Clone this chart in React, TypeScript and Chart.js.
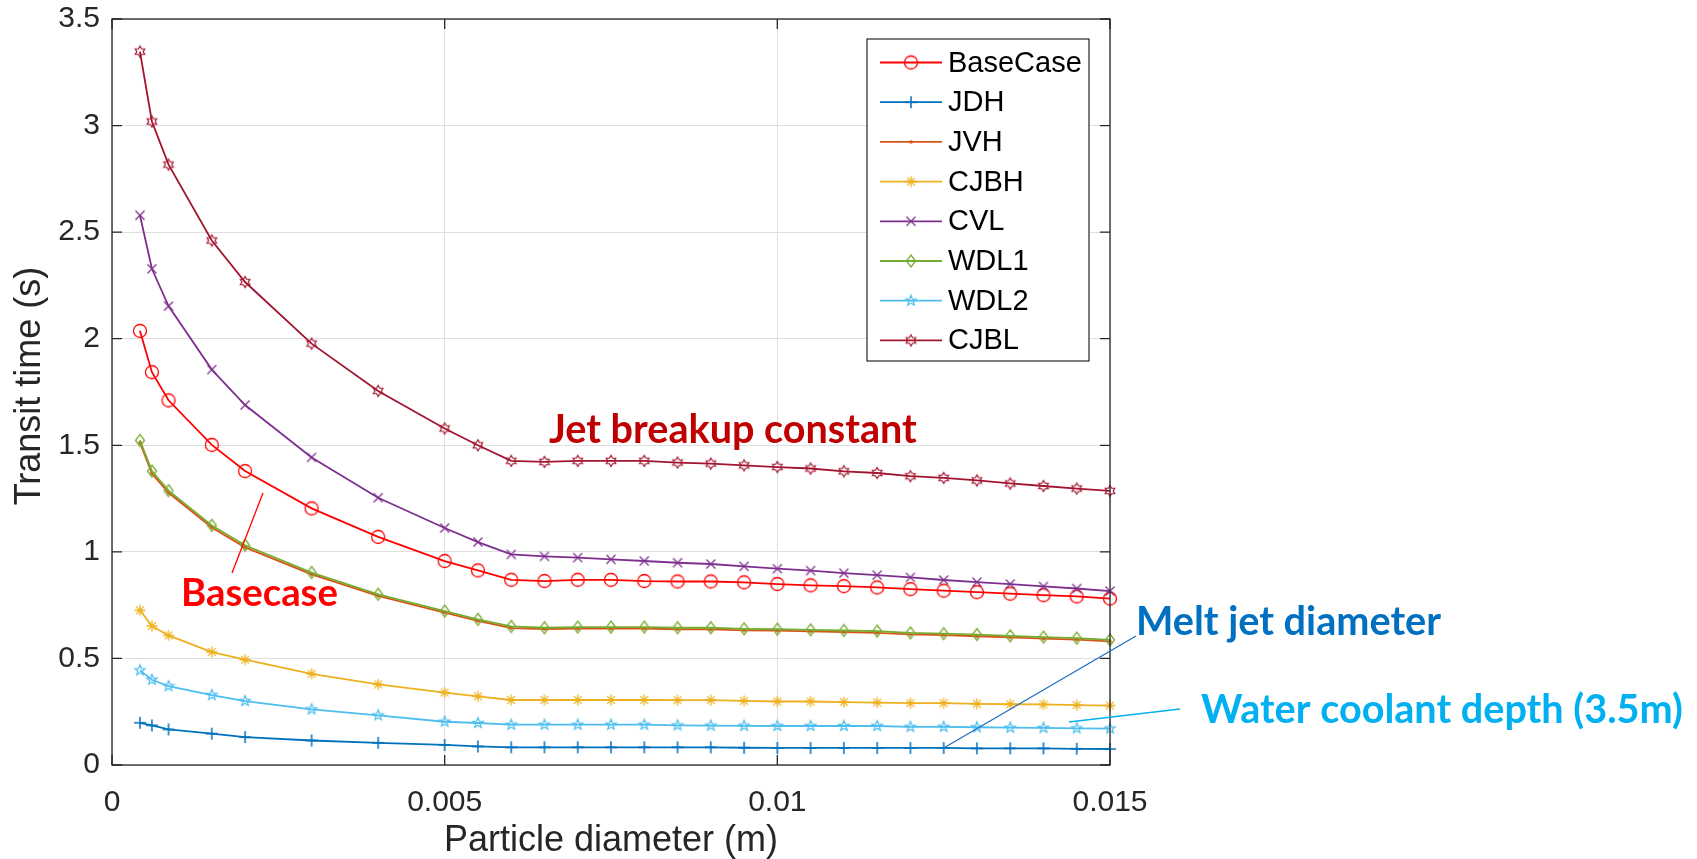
import React, { useEffect, useRef } from 'react';
import { Chart, registerables } from 'chart.js';

Chart.register(...registerables);

// ---------------- data ----------------
const PARTICLE_DIAMETER = [
  0.00042, 0.0006, 0.00085, 0.0015, 0.002, 0.003, 0.004, 0.005, 0.0055, 0.006,
  0.0065, 0.007, 0.0075, 0.008, 0.0085, 0.009, 0.0095, 0.01, 0.0105, 0.011,
  0.0115, 0.012, 0.0125, 0.013, 0.0135, 0.014, 0.0145, 0.015,
];

const BASECASE = [
  2.037, 1.843, 1.711, 1.502, 1.379, 1.204, 1.07, 0.957, 0.913, 0.869,
  0.863, 0.869, 0.869, 0.863, 0.861, 0.861, 0.857, 0.849, 0.843, 0.839,
  0.833, 0.825, 0.818, 0.811, 0.804, 0.797, 0.791, 0.781,
];
const JDH = [
  0.198, 0.186, 0.167, 0.147, 0.131, 0.115, 0.104, 0.094, 0.087, 0.083,
  0.083, 0.083, 0.083, 0.083, 0.083, 0.083, 0.081, 0.08, 0.08, 0.08,
  0.08, 0.08, 0.08, 0.078, 0.078, 0.078, 0.076, 0.075,
];
const JVH = [
  1.512, 1.368, 1.277, 1.114, 1.021, 0.894, 0.794, 0.715, 0.676, 0.642,
  0.638, 0.64, 0.64, 0.64, 0.637, 0.636, 0.632, 0.63, 0.627, 0.624,
  0.62, 0.613, 0.609, 0.604, 0.599, 0.593, 0.588, 0.58,
];
const CJBH = [
  0.726, 0.652, 0.608, 0.53, 0.494, 0.428, 0.378, 0.34, 0.322, 0.305,
  0.305, 0.305, 0.305, 0.305, 0.304, 0.304, 0.301, 0.298, 0.298, 0.295,
  0.293, 0.29, 0.29, 0.287, 0.285, 0.284, 0.281, 0.279,
];
const CVL = [
  2.579, 2.328, 2.153, 1.855, 1.689, 1.443, 1.254, 1.112, 1.046, 0.988,
  0.979, 0.973, 0.965, 0.957, 0.949, 0.943, 0.932, 0.921, 0.912, 0.9,
  0.891, 0.88, 0.868, 0.858, 0.849, 0.838, 0.828, 0.816,
];
const WDL1 = [
  1.523, 1.379, 1.287, 1.124, 1.031, 0.903, 0.801, 0.722, 0.683, 0.65,
  0.644, 0.647, 0.647, 0.647, 0.644, 0.644, 0.639, 0.637, 0.634, 0.631,
  0.628, 0.62, 0.616, 0.612, 0.606, 0.6, 0.595, 0.587,
];
const WDL2 = [
  0.444, 0.4, 0.37, 0.328, 0.3, 0.261, 0.233, 0.203, 0.197, 0.189,
  0.189, 0.189, 0.189, 0.189, 0.186, 0.185, 0.184, 0.183, 0.183, 0.183,
  0.183, 0.179, 0.179, 0.177, 0.175, 0.174, 0.172, 0.171,
];
const CJBL = [
  3.347, 3.019, 2.817, 2.461, 2.266, 1.977, 1.755, 1.579, 1.5, 1.427,
  1.422, 1.427, 1.427, 1.427, 1.419, 1.414, 1.406, 1.398, 1.391, 1.378,
  1.37, 1.355, 1.347, 1.335, 1.321, 1.309, 1.297, 1.286,
];

const SERIES_NAMES = ['BaseCase', 'JDH', 'JVH', 'CJBH', 'CVL', 'WDL1', 'WDL2', 'CJBL'];
const SERIES_VALUES = [BASECASE, JDH, JVH, CJBH, CVL, WDL1, WDL2, CJBL];

const X_TICKS = [0, 0.005, 0.01, 0.015];
const X_TICK_LABELS = ['0', '0.005', '0.01', '0.015'];
const Y_TICKS = [0, 0.5, 1, 1.5, 2, 2.5, 3, 3.5];
const Y_TICK_LABELS = ['0', '0.5', '1', '1.5', '2', '2.5', '3', '3.5'];

const X_TITLE = 'Particle diameter (m)';
const Y_TITLE = 'Transit time (s)';

const ANNOTATION_TEXTS = ['Jet breakup constant', 'Basecase', 'Melt jet diameter', 'Water coolant depth (3.5m)'];
const MELT_ANCHOR_X = 0.0125;

// ---------------- styles ----------------
const SERIES_COLORS = ['#FF0000', '#0072BD', '#D95319', '#EDB120', '#7E2F8E', '#77AC30', '#4DBEEE', '#A2142F'];
const SERIES_MARKERS = ['o', '+', '.', '*', 'x', 'd', 'p', 'h'];

const W = 1697;
const H = 859;
const AXIS_FONT = 'Liberation Sans, Arial, Helvetica, sans-serif';
const INK = '#262626';

function makeMarker(kind: string, color: string): HTMLCanvasElement {
  const c = document.createElement('canvas');
  c.width = 24;
  c.height = 24;
  const g = c.getContext('2d')!;
  g.translate(12, 12);
  g.strokeStyle = color;
  g.fillStyle = color;
  g.lineWidth = 1.3;
  g.beginPath();
  if (kind === 'o') {
    g.arc(0, 0, 6.5, 0, Math.PI * 2);
    g.stroke();
  } else if (kind === '+') {
    g.lineWidth = 1.5;
    g.moveTo(-6, 0); g.lineTo(6, 0);
    g.moveTo(0, -6); g.lineTo(0, 6);
    g.stroke();
  } else if (kind === '.') {
    g.arc(0, 0, 1.8, 0, Math.PI * 2);
    g.fill();
  } else if (kind === '*') {
    for (let k = 0; k < 4; k++) {
      const a = (k * Math.PI) / 4;
      g.moveTo(-5.5 * Math.cos(a), -5.5 * Math.sin(a));
      g.lineTo(5.5 * Math.cos(a), 5.5 * Math.sin(a));
    }
    g.stroke();
  } else if (kind === 'x') {
    g.moveTo(-4.5, -4.5); g.lineTo(4.5, 4.5);
    g.moveTo(-4.5, 4.5); g.lineTo(4.5, -4.5);
    g.stroke();
  } else if (kind === 'd') {
    g.moveTo(0, -6); g.lineTo(4.5, 0); g.lineTo(0, 6); g.lineTo(-4.5, 0);
    g.closePath();
    g.stroke();
  } else if (kind === 'p' || kind === 'h') {
    const n = kind === 'p' ? 5 : 6;
    const ro = 5.5;
    const ri = kind === 'p' ? 2.3 : 3.2;
    for (let k = 0; k < n * 2; k++) {
      const r = k % 2 === 0 ? ro : ri;
      const a = -Math.PI / 2 + (k * Math.PI) / n;
      const px = r * Math.cos(a);
      const py = r * Math.sin(a);
      if (k === 0) g.moveTo(px, py); else g.lineTo(px, py);
    }
    g.closePath();
    g.lineWidth = 1.2;
    g.stroke();
  }
  return c;
}

function fitText(ctx: CanvasRenderingContext2D, text: string, left: number, baseline: number, width: number, color: string) {
  ctx.font = 'bold 40px Lato, "Open Sans", sans-serif';
  const w = ctx.measureText(text).width;
  const size = (40 * width) / w;
  ctx.font = `bold ${size.toFixed(2)}px Lato, "Open Sans", sans-serif`;
  ctx.fillStyle = color;
  ctx.textAlign = 'left';
  ctx.textBaseline = 'alphabetic';
  ctx.fillText(text, left, baseline);
}

const framePlugin = {
  id: 'matlabFrame',
  afterDatasetsDraw(chart: any) {
    const { ctx, chartArea: a, scales } = chart;
    const xs = scales.x;
    const ys = scales.y;
    ctx.save();
    ctx.strokeStyle = INK;
    ctx.lineWidth = 1.3;
    ctx.beginPath();
    X_TICKS.forEach((v) => {
      const px = xs.getPixelForValue(v);
      ctx.moveTo(px, a.bottom); ctx.lineTo(px, a.bottom - 10);
      ctx.moveTo(px, a.top); ctx.lineTo(px, a.top + 10);
    });
    Y_TICKS.forEach((v) => {
      const py = ys.getPixelForValue(v);
      ctx.moveTo(a.left, py); ctx.lineTo(a.left + 10, py);
      ctx.moveTo(a.right, py); ctx.lineTo(a.right - 10, py);
    });
    ctx.stroke();
    ctx.strokeRect(a.left, a.top, a.right - a.left, a.bottom - a.top);
    ctx.restore();
  },
  afterDraw(chart: any) {
    const { ctx, chartArea: a, scales } = chart;
    const xs = scales.x;
    const ys = scales.y;
    ctx.save();
    // axis titles
    ctx.fillStyle = INK;
    ctx.font = `36px ${AXIS_FONT}`;
    ctx.textAlign = 'center';
    ctx.textBaseline = 'alphabetic';
    ctx.fillText(X_TITLE, (a.left + a.right) / 2, 851);
    ctx.save();
    ctx.translate(40, 386);
    ctx.rotate(-Math.PI / 2);
    ctx.fillText(Y_TITLE, 0, 0);
    ctx.restore();

    // legend
    const lx0 = 867, ly0 = 39, lx1 = 1089, ly1 = 361;
    ctx.fillStyle = '#ffffff';
    ctx.fillRect(lx0, ly0, lx1 - lx0, ly1 - ly0);
    ctx.strokeStyle = INK;
    ctx.lineWidth = 1.2;
    ctx.strokeRect(lx0, ly0, lx1 - lx0, ly1 - ly0);
    ctx.font = `29px ${AXIS_FONT}`;
    ctx.textAlign = 'left';
    ctx.textBaseline = 'middle';
    chart.data.datasets.forEach((ds: any, i: number) => {
      const y = 62.5 + 39.7 * i;
      ctx.strokeStyle = ds.borderColor;
      ctx.lineWidth = 1.8;
      ctx.beginPath();
      ctx.moveTo(880, y);
      ctx.lineTo(942, y);
      ctx.stroke();
      const m = ds.pointStyle as HTMLCanvasElement;
      ctx.drawImage(m, 911 - m.width / 2, y - m.height / 2);
      ctx.fillStyle = '#000000';
      ctx.fillText(ds.label, 948, y + 1);
    });

    // annotations
    fitText(ctx, ANNOTATION_TEXTS[0], 549, 443, 368, '#C00000');
    fitText(ctx, ANNOTATION_TEXTS[1], 181, 606, 157, '#FF0000');
    fitText(ctx, ANNOTATION_TEXTS[2], 1136, 635, 305, '#0070C0');
    fitText(ctx, ANNOTATION_TEXTS[3], 1201, 723, 482, '#00B0F0');

    ctx.lineWidth = 1.3;
    ctx.strokeStyle = '#FF0000';
    ctx.beginPath();
    ctx.moveTo(263, 493);
    ctx.lineTo(232, 573);
    ctx.stroke();

    const mi = PARTICLE_DIAMETER.indexOf(MELT_ANCHOR_X);
    ctx.strokeStyle = '#1F6FC0';
    ctx.beginPath();
    ctx.moveTo(xs.getPixelForValue(MELT_ANCHOR_X), ys.getPixelForValue(JDH[mi]));
    ctx.lineTo(1136, 636);
    ctx.stroke();

    ctx.strokeStyle = '#00B0F0';
    ctx.beginPath();
    ctx.moveTo(1069, 722);
    ctx.lineTo(1180, 709);
    ctx.stroke();
    ctx.restore();
  },
};

export default function App() {
  const ref = useRef<HTMLCanvasElement | null>(null);

  useEffect(() => {
    if (!ref.current) return;
    const datasets = SERIES_NAMES.map((name, i) => ({
      label: name,
      data: PARTICLE_DIAMETER.map((x, k) => ({ x, y: SERIES_VALUES[i][k] })),
      borderColor: SERIES_COLORS[i],
      backgroundColor: SERIES_COLORS[i],
      borderWidth: 1.8,
      pointStyle: makeMarker(SERIES_MARKERS[i], SERIES_COLORS[i]),
      pointRadius: 6,
      pointHoverRadius: 6,
      tension: 0,
      fill: false,
      clip: false as any,
      order: SERIES_NAMES.length - 1 - i,
    }));

    const chart = new Chart(ref.current, {
      type: 'line',
      data: { datasets },
      options: {
        animation: false,
        responsive: false,
        maintainAspectRatio: false,
        devicePixelRatio: 1,
        events: [],
        layout: { padding: { left: 0, top: 19, right: W - 1110, bottom: 0 } },
        plugins: { legend: { display: false }, tooltip: { enabled: false } },
        scales: {
          x: {
            type: 'linear',
            min: 0,
            max: 0.015,
            afterBuildTicks: (s: any) => { s.ticks = X_TICKS.map((v) => ({ value: v })); },
            afterFit: (s: any) => { s.height = H - 765; },
            ticks: {
              callback: (_v: any, idx: number) => X_TICK_LABELS[idx],
              font: { family: AXIS_FONT, size: 30 },
              color: INK,
              padding: 20,
              maxRotation: 0,
              autoSkip: false,
            },
            grid: { color: '#dfdfdf', lineWidth: 1, drawTicks: false },
            border: { display: false },
          },
          y: {
            type: 'linear',
            min: 0,
            max: 3.5,
            afterBuildTicks: (s: any) => { s.ticks = Y_TICKS.map((v) => ({ value: v })); },
            afterFit: (s: any) => { s.width = 112; },
            ticks: {
              callback: (_v: any, idx: number) => Y_TICK_LABELS[idx],
              font: { family: AXIS_FONT, size: 30, lineHeight: 0.1 },
              color: INK,
              padding: 12,
              autoSkip: false,
            },
            grid: { color: '#dfdfdf', lineWidth: 1, drawTicks: false },
            border: { display: false },
          },
        },
      },
      plugins: [framePlugin],
    });
    return () => chart.destroy();
  }, []);

  return (
    <div style={{ position: 'fixed', left: 0, top: 0, width: W, height: H, background: '#ffffff' }}>
      <canvas ref={ref} width={W} height={H} style={{ display: 'block', width: W, height: H }} />
    </div>
  );
}
